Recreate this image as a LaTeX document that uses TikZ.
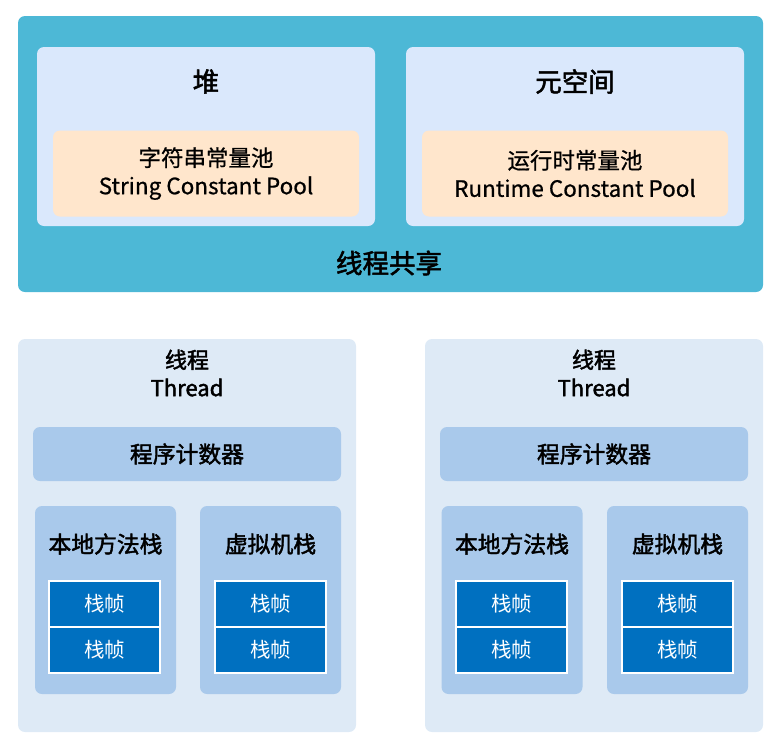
\documentclass[tikz,border=0pt]{standalone}
\usepackage{fontspec}
\setmainfont{Noto Sans CJK SC}
\newfontfamily\medfont[FakeBold=2]{Noto Sans CJK SC}
\newfontfamily\poolfont[FakeBold=0.7]{Noto Sans CJK SC}
\usepackage{xcolor}
\definecolor{SharedTeal}{HTML}{4DB8D6}
\definecolor{AreaBlue}{HTML}{DAE8FC}
\definecolor{PoolOrange}{HTML}{FFE6CC}
\definecolor{ThreadBlue}{HTML}{DEEAF6}
\definecolor{PartBlue}{HTML}{A9C9EB}
\definecolor{FrameBlue}{HTML}{0070C0}

\begin{document}
\begin{tikzpicture}[x=1pt,y=1pt,yscale=-1,xscale=1,
		area/.style={rectangle, rounded corners=7pt, inner sep=0pt},
		title/.style={font=\medfont\fontsize{26.5}{30}\selectfont},
		parttitle/.style={font=\medfont\fontsize{22.8}{28}\selectfont},
		label/.style={font=\poolfont\fontsize{22.5}{28}\selectfont, align=center},
		framebox/.style={rectangle, fill=FrameBlue, draw=white, line width=2pt, minimum width=111pt, minimum height=46pt, inner sep=0pt, text=white, font=\fontsize{20.5}{24}\selectfont}]
		% Set diagram size to the reference: 781 wide, 747 high
		\useasboundingbox (0,0) rectangle (781,747);

		% Shared part of the memory
		\node[area, fill=SharedTeal, minimum width=745pt, minimum height=276pt] (shared) at (390.5,154) {};
		\node[title] (sharedtext) at (389,263) {线程共享};

		% Heap with the string pool
		\node[area, fill=AreaBlue, minimum width=338pt, minimum height=179pt] (heap) at (206,136.5) {};
		\node[title] (heaptext) at (206,81.5) {堆};
		\node[area, fill=PoolOrange, minimum width=306pt, minimum height=86pt, label] (strpool) at (206,173.5) {字符串常量池\\String Constant Pool};

		% Metaspace with the runtime pool
		\node[area, fill=AreaBlue, minimum width=338pt, minimum height=179pt] (meta) at (575,136.5) {};
		\node[title] (metatext) at (575,81.5) {元空间};
		\node[area, fill=PoolOrange, minimum width=306pt, minimum height=86pt, label] (rtpool) at (575,173.5) {运行时常量池\\Runtime Constant Pool};

		% Left thread
		\node[area, fill=ThreadBlue, minimum width=338pt, minimum height=393pt] (threadA) at (187,535.5) {};
		\node[label, font=\medfont\fontsize{22}{28}\selectfont] (threadAtext) at (187,373) {线程\\Thread};
		\node[area, fill=PartBlue, minimum width=308pt, minimum height=54pt, parttitle] (pcA) at (187,454) {程序计数器};
		\node[area, fill=PartBlue, minimum width=141pt, minimum height=188pt] (nativeA) at (105.5,600) {};
		\node[parttitle] (nativeAtext) at (105.5,544) {本地方法栈};
		\node[area, fill=PartBlue, minimum width=141pt, minimum height=188pt] (vmA) at (270.5,600) {};
		\node[parttitle] (vmAtext) at (270.5,544) {虚拟机栈};
		\node[framebox] (nativeA1) at (104.5,603.5) {栈帧};
		\node[framebox] (nativeA2) at (104.5,650) {栈帧};
		\node[framebox] (vmA1) at (270.5,603.5) {栈帧};
		\node[framebox] (vmA2) at (270.5,650) {栈帧};

		% Right thread
		\node[area, fill=ThreadBlue, minimum width=338pt, minimum height=393pt] (threadB) at (594,535.5) {};
		\node[label, font=\medfont\fontsize{22}{28}\selectfont] (threadBtext) at (594,373) {线程\\Thread};
		\node[area, fill=PartBlue, minimum width=308pt, minimum height=54pt, parttitle] (pcB) at (594,454) {程序计数器};
		\node[area, fill=PartBlue, minimum width=141pt, minimum height=188pt] (nativeB) at (512,600) {};
		\node[parttitle] (nativeBtext) at (512,544) {本地方法栈};
		\node[area, fill=PartBlue, minimum width=141pt, minimum height=188pt] (vmB) at (677.5,600) {};
		\node[parttitle] (vmBtext) at (677.5,544) {虚拟机栈};
		\node[framebox] (nativeB1) at (511.5,603.5) {栈帧};
		\node[framebox] (nativeB2) at (511.5,650) {栈帧};
		\node[framebox] (vmB1) at (677.5,603.5) {栈帧};
		\node[framebox] (vmB2) at (677.5,650) {栈帧};
	\end{tikzpicture}
\end{document}
